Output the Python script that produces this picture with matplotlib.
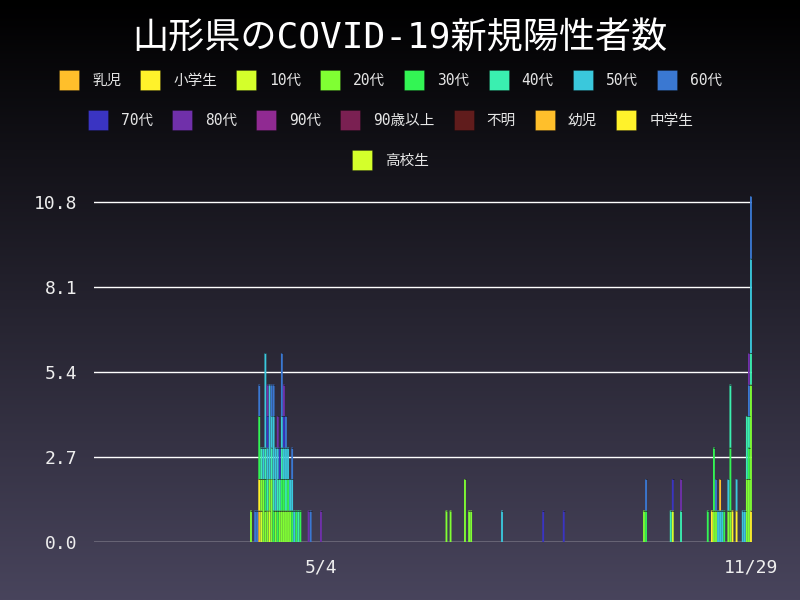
import numpy as np
import pandas as pd
import matplotlib
matplotlib.use("Agg")
import matplotlib.pyplot as plt
import matplotlib.dates as mdates
from matplotlib.patches import Rectangle
from matplotlib.colors import LinearSegmentedColormap

plt.rcParams['font.family'] = ['DejaVu Sans Mono', 'Noto Sans CJK JP']

title = "山形県のCOVID-19新規陽性者数"
first_day = "2020-01-15"
last_day = "2020-11-29"
x_ticks = ["2020-05-04", "2020-11-29"]
y_ticks = [0.0, 2.7, 5.4, 8.1, 10.8]

# legend order is also the stacking order (bottom first)
groups = ["乳児", "小学生", "10代", "20代", "30代", "40代", "50代", "60代",
          "70代", "80代", "90代", "90歳以上", "不明", "幼児", "中学生", "高校生"]
colors = ["#ffbf2b", "#fff22b", "#d4ff2b", "#80ff33", "#33f554", "#3aefb0",
          "#3ac8dc", "#3a78d2", "#3a34c2", "#7030aa", "#902a92", "#7a2052",
          "#601c1c", "#ffbf2b", "#fff22b", "#d4ff2b"]

# new cases per day, "month-day": count
c_infant = {"04-04": 1}
c_elem = {"04-04": 1, "11-10": 1, "11-20": 1, "11-22": 1, "11-29": 1}
c_10s = {"04-05": 1, "04-09": 1, "10-22": 1}
c_20s = {"03-31": 1, "04-05": 1, "04-06": 2, "04-07": 1, "04-08": 1, "04-09": 1,
         "04-10": 2, "04-12": 1, "04-14": 1, "04-15": 1, "04-16": 1, "04-17": 1,
         "04-18": 1, "04-19": 1, "07-04": 1, "07-06": 1, "07-13": 2, "07-15": 1,
         "07-16": 1, "10-08": 1, "11-11": 1, "11-12": 1, "11-18": 1, "11-19": 1,
         "11-27": 2, "11-28": 2, "11-29": 4}
c_30s = {"04-04": 2, "04-07": 1, "04-11": 1, "04-13": 1, "04-15": 1, "04-16": 1,
         "04-18": 1, "04-20": 1, "04-22": 1, "04-24": 1, "10-09": 1, "11-08": 1,
         "11-11": 2, "11-16": 1, "11-19": 2, "11-28": 1}
c_40s = {"04-05": 1, "04-07": 1, "04-08": 1, "04-10": 1, "04-11": 1, "04-13": 1,
         "04-14": 1, "04-15": 1, "04-17": 1, "04-23": 1, "10-21": 1, "10-26": 1,
         "11-19": 2, "11-27": 2, "11-28": 1, "11-29": 1}
c_50s = {"04-06": 1, "04-07": 3, "04-08": 1, "04-09": 3, "04-10": 1, "04-11": 2,
         "04-12": 2, "04-13": 1, "04-15": 1, "04-16": 1, "04-17": 1, "04-18": 1,
         "04-19": 1, "04-20": 1, "04-21": 1, "07-31": 1, "11-13": 1, "11-14": 1,
         "11-15": 1, "11-18": 1, "11-22": 1, "11-25": 1, "11-26": 1, "11-29": 3}
c_60s = {"04-02": 1, "04-03": 1, "04-04": 1, "04-10": 1, "04-11": 1, "04-15": 2,
         "04-17": 1, "04-20": 1, "04-29": 1, "10-09": 1, "11-12": 1, "11-28": 1,
         "11-29": 2}
c_70s = {"04-08": 1, "04-14": 1, "04-16": 1, "08-20": 1, "08-30": 1, "10-22": 1}
c_80s = {"04-08": 1, "04-13": 1, "04-16": 1, "04-28": 1, "05-04": 1, "10-26": 1,
         "11-28": 1}
c_90s = {}
c_over90 = {}
c_unknown = {}
c_preschool = {"11-14": 1}
c_junior = {}
c_high = {}

per_group = [c_infant, c_elem, c_10s, c_20s, c_30s, c_40s, c_50s, c_60s,
             c_70s, c_80s, c_90s, c_over90, c_unknown, c_preschool, c_junior, c_high]

days = pd.date_range(first_day, last_day, freq="D")
table = pd.DataFrame(0, index=days, columns=groups)
for name, counts in zip(groups, per_group):
    for md, n in counts.items():
        table.loc[pd.Timestamp("2020-" + md), name] = n

W, H = 800, 600
fig = plt.figure(figsize=(8, 6), dpi=100)

# background gradient
bg = fig.add_axes([0, 0, 1, 1], zorder=-10)
grad = np.linspace(0, 1, 256).reshape(-1, 1)
cmap = LinearSegmentedColormap.from_list("bg", ["#000000", "#48445c"])
bg.imshow(grad, aspect="auto", cmap=cmap, extent=[0, 1, 1, 0])
bg.set_axis_off()

ax = fig.add_axes([94 / W, 58 / H, 658 / W, 346.3 / H])
ax.set_facecolor("none")

x = mdates.date2num(days)
bottom = np.zeros(len(days))
for name, color in zip(groups, colors):
    h = table[name].to_numpy().astype(float)
    m = h > 0
    if m.any():
        bars = ax.bar(x[m], h[m], bottom=bottom[m], width=0.9, color=color,
                      linewidth=0, zorder=3)
        for b in bars:
            b.set_snap(False)
        # thin dark seam on top of each segment
        ax.hlines(bottom[m] + h[m], x[m] - 0.45, x[m] + 0.45,
                  color=(0.1, 0.1, 0.14, 0.8), linewidth=0.6, zorder=4)
    bottom += h

ax.set_xlim(mdates.date2num(pd.Timestamp(first_day)) - 0.3,
            mdates.date2num(pd.Timestamp(last_day)) + 0.5)
ax.set_ylim(0, 11)
ax.set_yticks(y_ticks)
ax.set_yticklabels([f"{v:.1f}" for v in y_ticks])
tick_dates = pd.to_datetime(x_ticks)
ax.set_xticks(mdates.date2num(tick_dates))
ax.set_xticklabels([f"{d.month}/{d.day}" for d in tick_dates])
ax.grid(axis="y", color="white", linewidth=1.0, zorder=1)
for s in ax.spines.values():
    s.set_visible(False)
ax.tick_params(axis="y", length=0, pad=12, labelsize=13, labelcolor="#eeeeee")
ax.tick_params(axis="x", length=0, pad=12, labelsize=13, labelcolor="#eeeeee")

fig.text(0.5, 1 - 38 / H, title, ha="center", va="center", color="white",
         fontsize=26)

# legend, Chart.js style: centred rows of box + label
renderer = fig.canvas.get_renderer()
box, gap, pad, max_row = 20, 13, 19, 710
items = []
for name, color in zip(groups, colors):
    t = fig.text(0, 0, name, fontsize=10.5, color="#e6e6e6", va="center", ha="left")
    tw = t.get_window_extent(renderer).width
    items.append((t, color, box + gap + tw + pad))
rows, row = [], []
for it in items:
    if row and sum(r[2] for r in row) + it[2] > max_row:
        rows.append(row)
        row = []
    row.append(it)
rows.append(row)
for k, row in enumerate(rows):
    yc = 80 + 40 * k
    xs = (W - sum(r[2] for r in row)) / 2
    for t, color, w in row:
        fig.add_artist(Rectangle((xs / W, 1 - (yc + 10) / H), box / W, box / H,
                                 transform=fig.transFigure, facecolor=color,
                                 edgecolor=(0, 0, 0, 0.3), linewidth=0.5))
        t.set_position(((xs + box + gap) / W, 1 - yc / H))
        xs += w

fig.savefig("out.png", dpi=100)
